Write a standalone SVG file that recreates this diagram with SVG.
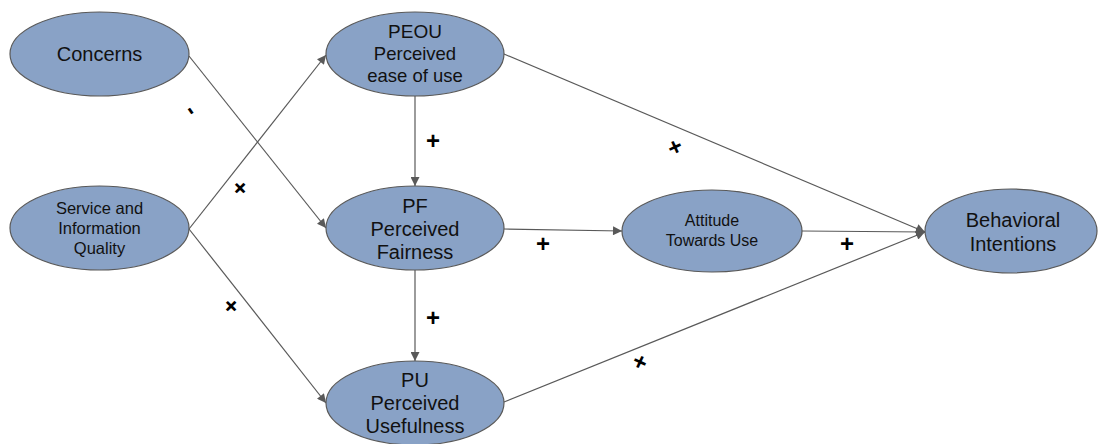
<svg xmlns="http://www.w3.org/2000/svg" width="1099" height="444" viewBox="0 0 1099 444">
<defs>
<marker id="arr" viewBox="0 0 10 10" refX="10" refY="5" markerWidth="11" markerHeight="9" markerUnits="userSpaceOnUse" orient="auto">
<path d="M0,0 L10,5 L0,10 z" fill="#595959"/>
</marker>
</defs>
<style>
.n{fill:#89a2c6;stroke:#595959;stroke-width:1.2}
.t{font-family:"Liberation Sans",Arial,sans-serif;fill:#111;text-anchor:middle}
.c{stroke:#595959;stroke-width:1.2;fill:none;marker-end:url(#arr)}
.l{font-family:"Liberation Sans",Arial,sans-serif;fill:#000;font-size:24px;text-anchor:middle;font-weight:bold}
</style>
<rect width="1099" height="444" fill="#fff"/>
<g id="connectors">
<line class="c" x1="189" y1="56" x2="326" y2="228"/>
<line class="c" x1="189" y1="229" x2="326" y2="55"/>
<line class="c" x1="189" y1="229" x2="326" y2="403"/>
<line class="c" x1="415" y1="96" x2="415" y2="186"/>
<line class="c" x1="415" y1="270" x2="415" y2="361"/>
<line class="c" x1="504" y1="229" x2="622" y2="231"/>
<line class="c" x1="802" y1="231" x2="925" y2="232"/>
<line class="c" x1="504" y1="54" x2="925" y2="232"/>
<line class="c" x1="504" y1="402" x2="925" y2="232"/>
</g>
<g id="labels">
<text class="l" transform="translate(192,110) rotate(55)" dy="8">-</text>
<text class="l" x="433" y="149">+</text>
<text class="l" transform="translate(240,188) rotate(45)" dy="8">+</text>
<text class="l" transform="translate(231,306) rotate(45)" dy="8">+</text>
<text class="l" x="433" y="326">+</text>
<text class="l" x="543" y="252">+</text>
<text class="l" x="847" y="252">+</text>
<text class="l" transform="translate(675,147) rotate(-25)" dy="8">+</text>
<text class="l" transform="translate(640,362) rotate(25)" dy="8">+</text>
</g>
<g id="concerns">
<ellipse class="n" cx="99.5" cy="54" rx="89.5" ry="42"/>
<text class="t" x="99.5" y="61" font-size="20">Concerns</text>
</g>
<g id="peou">
<ellipse class="n" cx="415" cy="54" rx="89" ry="42"/>
<text class="t" x="415" y="38" font-size="19">PEOU</text>
<text class="t" x="415" y="60" font-size="18.5">Perceived</text>
<text class="t" x="415" y="82" font-size="18.5">ease of use</text>
</g>
<g id="service">
<ellipse class="n" cx="99.5" cy="228" rx="89.5" ry="42"/>
<text class="t" x="99.5" y="214" font-size="16.5">Service and</text>
<text class="t" x="99.5" y="234" font-size="16.5">Information</text>
<text class="t" x="99.5" y="254" font-size="16.5">Quality</text>
</g>
<g id="pf">
<ellipse class="n" cx="415" cy="228" rx="89" ry="42"/>
<text class="t" x="415" y="213" font-size="20">PF</text>
<text class="t" x="415" y="236" font-size="20">Perceived</text>
<text class="t" x="415" y="259" font-size="20">Fairness</text>
</g>
<g id="pu">
<ellipse class="n" cx="415" cy="403" rx="89" ry="42"/>
<text class="t" x="415" y="387" font-size="20">PU</text>
<text class="t" x="415" y="410" font-size="20">Perceived</text>
<text class="t" x="415" y="433" font-size="20">Usefulness</text>
</g>
<g id="attitude">
<ellipse class="n" cx="712" cy="231" rx="90" ry="41"/>
<text class="t" x="712" y="226" font-size="16">Attitude</text>
<text class="t" x="712" y="246" font-size="16">Towards Use</text>
</g>
<g id="behavioral">
<ellipse class="n" cx="1011" cy="231" rx="86" ry="42"/>
<text class="t" x="1013" y="227" font-size="20">Behavioral</text>
<text class="t" x="1013" y="251" font-size="20">Intentions</text>
</g>
</svg>
